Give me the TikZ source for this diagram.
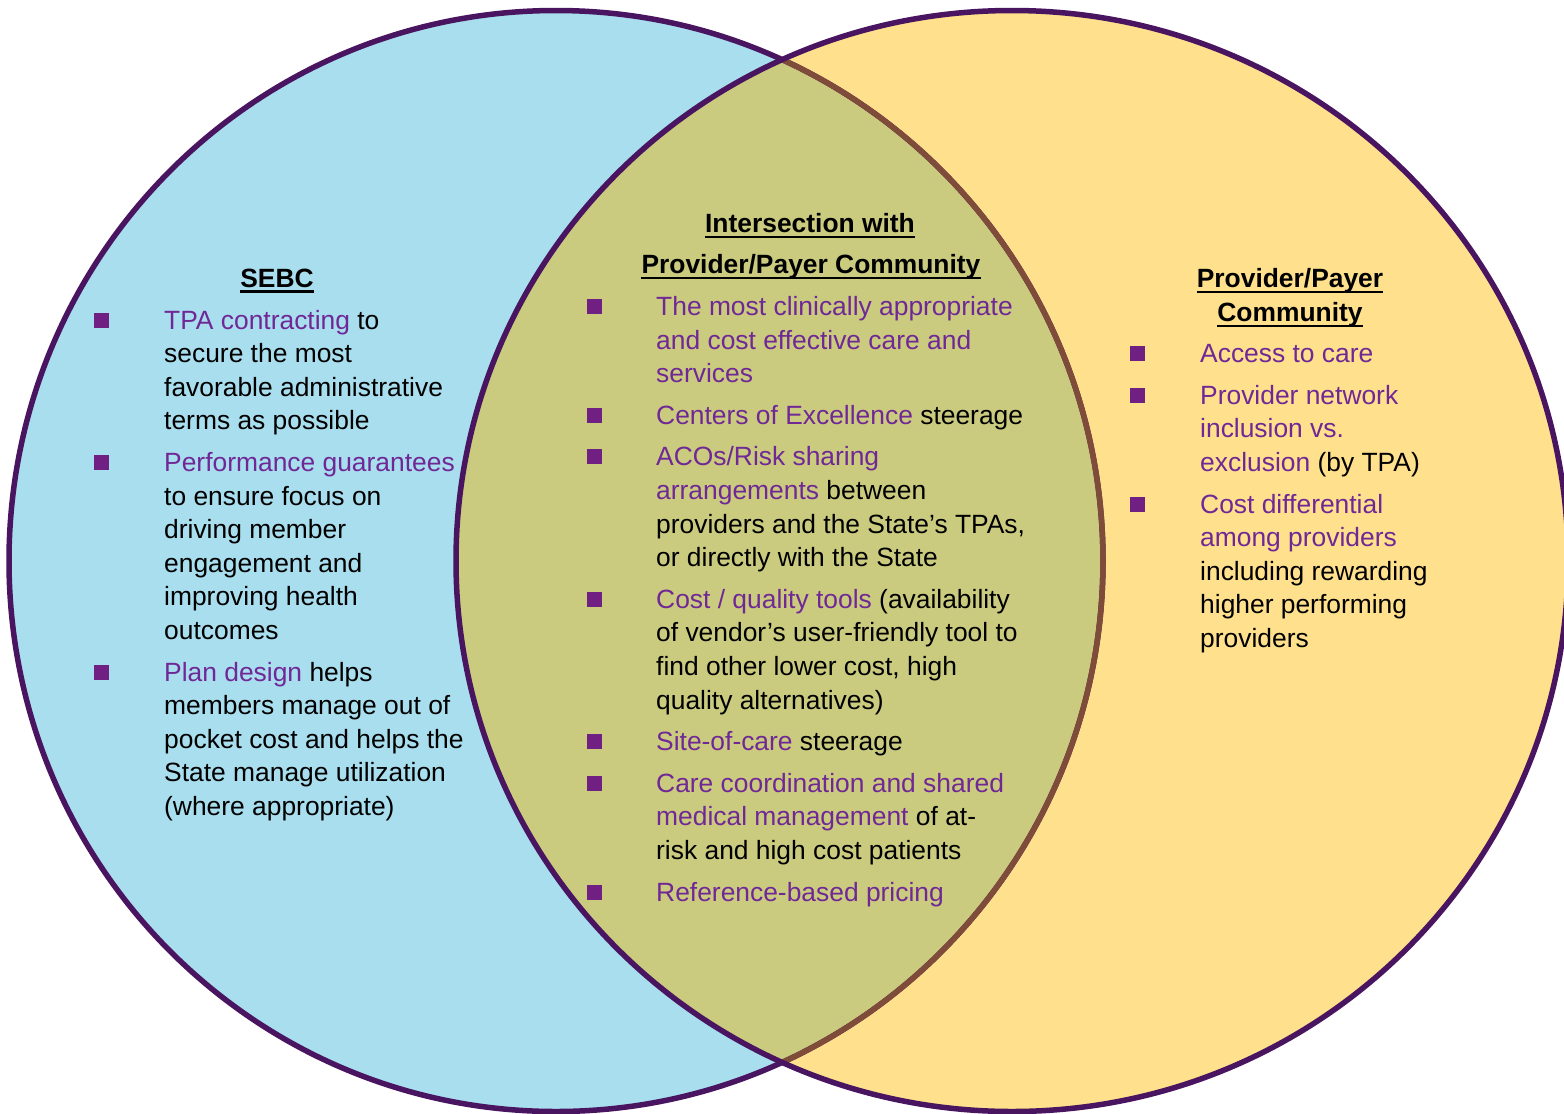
\documentclass[tikz,border=0pt]{standalone}
\usepackage{fontspec}
\setmainfont{Liberation Sans}
\definecolor{bluef}{RGB}{168,222,238}
\definecolor{yelf}{RGB}{255,224,140}
\definecolor{olivef}{RGB}{202,203,126}
\definecolor{edgec}{RGB}{74,21,96}
\definecolor{brownc}{RGB}{128,76,58}
\definecolor{ppl}{RGB}{112,40,150}
\definecolor{sqc}{RGB}{112,32,130}
\newcommand\fs{\fontsize{26.4}{33.5}\selectfont}
\newcommand\pp[1]{\textcolor{ppl}{#1}}
\tikzset{
  txt/.style={anchor=base west, inner sep=0pt, font=\fs},
  ttl/.style={anchor=base, inner sep=0pt, font=\fs\bfseries},
  sq/.style={rectangle, minimum size=15pt, inner sep=0pt, fill=sqc},
  ul/.style={line width=2.5pt, black},
  edge/.style={line width=5.5pt, edgec},
  lshape/.style={x radius=547pt, y radius=550.5pt},
  rshape/.style={x radius=556pt, y radius=550.5pt}
}
\begin{document}
\begin{tikzpicture}[x=1pt,y=-1pt]
\useasboundingbox (0,0) rectangle (1564,1114);
\begin{scope}
\clip (0,0) rectangle (1564,1114);
\fill[bluef] (556,561) ellipse[lshape];
\fill[yelf] (1012,561) ellipse[rshape];
\begin{scope}
\clip (556,561) ellipse[lshape];
\fill[olivef] (1012,561) ellipse[rshape];
\end{scope}
\draw[edge] (556,561) ellipse[lshape];
\begin{scope}
\clip (1012,561) ellipse[rshape];
\draw[line width=5.5pt, brownc] (556,561) ellipse[lshape];
\end{scope}
\draw[edge] (1012,561) ellipse[rshape];
\end{scope}

% titles
\node[ttl] (t1) at (277,287) {SEBC};
\node[ttl] (t2) at (810,232.5) {Intersection with};
\node[ttl] (t3) at (811,273.5) {Provider/Payer Community};
\node[ttl] (t4) at (1290,287.5) {Provider/Payer};
\node[ttl] (t5) at (1290,321.5) {Community};
\foreach \t in {t1,t2,t3,t4,t5}
  \draw[ul] ([yshift=-4.5pt]\t.base west) -- ([yshift=-4.5pt]\t.base east);

% left bullets
\node[sq] (sa) at (101,320) {};
\node[sq] (sb) at (101,462) {};
\node[sq] (sc) at (101,672) {};
\node[txt] (a1) at (164,329.5) {\pp{TPA contracting} to};
\node[txt] (a2) at (164,362.5) {secure the most};
\node[txt] (a3) at (164,396.5) {favorable administrative};
\node[txt] (a4) at (164,429.5) {terms as possible};
\node[txt] (b1) at (164,471.5) {\pp{Performance guarantees}};
\node[txt] (b2) at (164,505.5) {to ensure focus on};
\node[txt] (b3) at (164,538.5) {driving member};
\node[txt] (b4) at (164,572.5) {engagement and};
\node[txt] (b5) at (164,605.5) {improving health};
\node[txt] (b6) at (164,639.5) {outcomes};
\node[txt] (c1) at (164,681.5) {\pp{Plan design} helps};
\node[txt] (c2) at (164,714.5) {members manage out of};
\node[txt] (c3) at (164,748.5) {pocket cost and helps the};
\node[txt] (c4) at (164,781.5) {State manage utilization};
\node[txt] (c5) at (164,815.5) {(where appropriate)};

% middle bullets
\node[sq] (sm1) at (594,306) {};
\node[sq] (sm2) at (594,415) {};
\node[sq] (sm3) at (594,456) {};
\node[sq] (sm4) at (594,599) {};
\node[sq] (sm5) at (594,741) {};
\node[sq] (sm6) at (594,783) {};
\node[sq] (sm7) at (594,892) {};
\node[txt] (m1) at (656,315.5) {\pp{The most clinically appropriate}};
\node[txt] (m2) at (656,349.5) {\pp{and cost effective care and}};
\node[txt] (m3) at (656,382.5) {\pp{services}};
\node[txt] (m4) at (656,424.5) {\pp{Centers of Excellence} steerage};
\node[txt] (m5) at (656,465.5) {\pp{ACOs/Risk sharing}};
\node[txt] (m6) at (656,499.5) {\pp{arrangements} between};
\node[txt] (m7) at (656,533.5) {providers and the State’s TPAs,};
\node[txt] (m8) at (656,566.5) {or directly with the State};
\node[txt] (m9) at (656,608.5) {\pp{Cost / quality tools} (availability};
\node[txt] (m10) at (656,641.5) {of vendor’s user-friendly tool to};
\node[txt] (m11) at (656,675.5) {find other lower cost, high};
\node[txt] (m12) at (656,709.5) {quality alternatives)};
\node[txt] (m13) at (656,750.5) {\pp{Site-of-care} steerage};
\node[txt] (m14) at (656,792.5) {\pp{Care coordination and shared}};
\node[txt] (m15) at (656,825.5) {\pp{medical management} of at-};
\node[txt] (m16) at (656,859.5) {risk and high cost patients};
\node[txt] (m17) at (656,901.5) {\pp{Reference-based pricing}};

% right bullets
\node[sq] (sr1) at (1137,353) {};
\node[sq] (sr2) at (1137,395) {};
\node[sq] (sr3) at (1137,504) {};
\node[txt] (r1) at (1200,362.5) {\pp{Access to care}};
\node[txt] (r2) at (1200,404.5) {\pp{Provider network}};
\node[txt] (r3) at (1200,437.5) {\pp{inclusion vs.}};
\node[txt] (r4) at (1200,471.5) {\pp{exclusion} (by TPA)};
\node[txt] (r5) at (1200,513.5) {\pp{Cost differential}};
\node[txt] (r6) at (1200,546.5) {\pp{among providers}};
\node[txt] (r7) at (1200,580.5) {including rewarding};
\node[txt] (r8) at (1200,613.5) {higher performing};
\node[txt] (r9) at (1200,647.5) {providers};
\end{tikzpicture}
\end{document}
